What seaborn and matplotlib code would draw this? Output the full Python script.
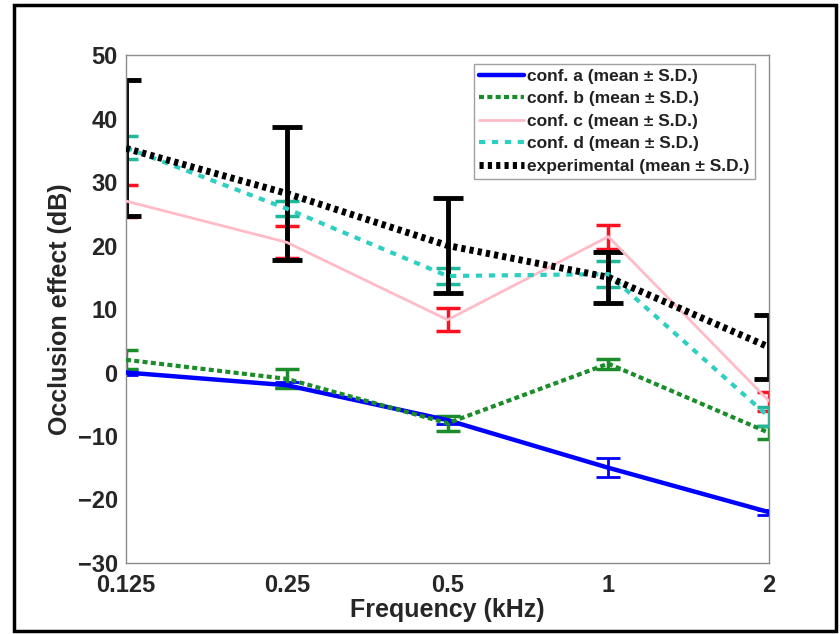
import numpy as np
import pandas as pd
import matplotlib
matplotlib.use("Agg")
import matplotlib.pyplot as plt
from matplotlib.patches import Rectangle
import seaborn as sns

sns.set_style("white")
plt.rcParams["font.family"] = ["Liberation Sans", "DejaVu Sans"]
plt.rcParams["font.weight"] = "bold"

# Frequencies (kHz)
freqs = [0.125, 0.25, 0.5, 1, 2]
freq_labels = ["0.125", "0.25", "0.5", "1", "2"]

# Occlusion effect (dB): mean and standard deviation per configuration
conf_a_mean = [0.0, -2.0, -7.5, -15.0, -22.0]
conf_a_sd = [0.4, 0.5, 0.6, 1.5, 0.4]
conf_b_mean = [2.0, -1.0, -8.0, 1.4, -9.5]
conf_b_sd = [1.5, 1.5, 1.2, 0.8, 1.0]
conf_c_mean = [27.0, 20.5, 8.3, 21.4, -4.5]
conf_c_sd = [2.5, 2.5, 1.8, 1.9, 1.5]
conf_d_mean = [35.4, 25.8, 15.2, 15.5, -7.0]
conf_d_sd = [1.8, 1.2, 1.3, 2.0, 1.5]
exp_mean = [35.3, 28.2, 20.0, 15.0, 4.0]
exp_sd = [10.7, 10.5, 7.5, 4.0, 5.0]

series = [
    ("conf. a (mean \u00b1 S.D.)", conf_a_mean, conf_a_sd,
     dict(color="#0000ff", lw=3.2, ls="-"), "#0000ff", 8.5, 2.0),
    ("conf. b (mean \u00b1 S.D.)", conf_b_mean, conf_b_sd,
     dict(color="#1a8c2a", lw=3.0, ls=(0, (1.2, 0.8))), "#1a8c2a", 8.5, 2.5),
    ("conf. c (mean \u00b1 S.D.)", conf_c_mean, conf_c_sd,
     dict(color="#ffbcc8", lw=2.0, ls="-"), "#ff1020", 8.5, 2.5),
    ("conf. d (mean \u00b1 S.D.)", conf_d_mean, conf_d_sd,
     dict(color="#2ccfc0", lw=3.0, ls=(0, (1.5, 1.6))), "#1fb89a", 8.5, 2.5),
    ("experimental (mean \u00b1 S.D.)", exp_mean, exp_sd,
     dict(color="#000000", lw=5.0, ls=(0, (0.6, 0.6))), "#000000", 10.5, 3.5),
]

fig = plt.figure(figsize=(8.4, 6.34), dpi=100)
ax = fig.add_axes([0.15, 0.112, 0.7655, 0.8012])

frames = []
for label, mean, sd, style, ecolor, cap, elw in series:
    frames.append(pd.DataFrame({"freq": freqs, "oe": mean, "sd": sd, "series": label}))
df = pd.concat(frames, ignore_index=True)

for label, mean, sd, style, ecolor, cap, elw in series:
    sub = df[df["series"] == label]
    ax.errorbar(sub["freq"], sub["oe"], yerr=sub["sd"], fmt="none",
                ecolor=ecolor, elinewidth=elw, capsize=cap, capthick=elw, zorder=2)
for label, mean, sd, style, ecolor, cap, elw in series:
    sub = df[df["series"] == label]
    sns.lineplot(data=sub, x="freq", y="oe", ax=ax, label=label,
                 color=style["color"], linewidth=style["lw"], zorder=3,
                 estimator=None, sort=False)
    ax.lines[-1].set_linestyle(style["ls"])
    ax.lines[-1].set_dash_capstyle("butt")

ax.set_xscale("log", base=2)
ax.set_xlim(0.125, 2)
ax.set_ylim(-30, 50)
ax.set_xticks(freqs)
ax.set_xticklabels(freq_labels)
ax.minorticks_off()
ax.set_yticks(np.arange(-30, 51, 10))
ax.tick_params(axis="both", labelsize=17, direction="in", length=3,
               color="#aaaaaa", width=0.8)
ax.tick_params(axis="x", pad=8)
ax.tick_params(axis="y", pad=6)
for t in ax.get_xticklabels() + ax.get_yticklabels():
    t.set_fontweight("bold")

ax.set_xlabel("Frequency (kHz)", fontsize=18, fontweight="bold", labelpad=1)
ax.set_ylabel("Occlusion effect (dB)", fontsize=18, fontweight="bold", labelpad=4)

for s in ax.spines.values():
    s.set_color("#8c8c8c")
    s.set_linewidth(1.0)

leg = ax.legend(loc="upper right", bbox_to_anchor=(0.983, 0.99), fontsize=12.5,
                handlelength=2.6, handletextpad=0.15, labelspacing=0.42,
                borderpad=0.3, frameon=True, fancybox=False, borderaxespad=0.2)
leg.get_frame().set_edgecolor("#888888")
leg.get_frame().set_linewidth(1.0)
for t in leg.get_texts():
    t.set_fontweight("bold")
    t.set_color("#222222")

fig.patches.append(Rectangle((0.0165, 0.004), 0.979, 0.988, transform=fig.transFigure,
                             fill=False, edgecolor="black", linewidth=2.5))

fig.savefig("out.png", dpi=100)
